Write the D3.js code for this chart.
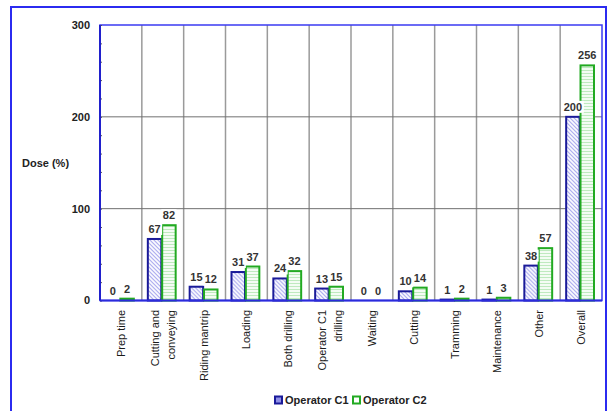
<!DOCTYPE html>
<html>
<head>
<meta charset="utf-8">
<script src="https://cdn.jsdelivr.net/npm/d3@7"></script>
<style>
  body { margin: 0; background: #fff; }
  svg { display: block; font-family: "Liberation Sans", Arial, sans-serif; }
</style>
</head>
<body>
<div id="chart"></div>
<script>
// activity categories (multi-line labels split with |)
const categories = ["Prep time", "Cutting and|conveying", "Riding mantrip", "Loading", "Both drilling",
  "Operator C1|drilling", "Waiting", "Cutting", "Tramming", "Maintenance", "Other", "Overall"];
const seriesNames = ["Operator C1", "Operator C2"];
const doseC1 = [0, 67, 15, 31, 24, 13, 0, 10, 1, 1, 38, 200];
const doseC2 = [2, 82, 12, 37, 32, 15, 0, 14, 2, 3, 57, 256];
const yTicks = [0, 100, 200, 300];

(function() {
  const width = 608, height = 411;
  const marginLeft = 100, marginRight = 6, marginTop = 25, marginBottom = 110.5;

  const svg = d3.select("#chart").append("svg")
      .attr("width", width)
      .attr("height", height)
      .attr("viewBox", [0, 0, width, height]);

  const defs = svg.append("defs");
  // diagonal hatch for operator C1
  const p1 = defs.append("pattern")
      .attr("id", "hatchC1")
      .attr("patternUnits", "userSpaceOnUse")
      .attr("width", 4).attr("height", 4);
  p1.append("rect").attr("width", 4).attr("height", 4).attr("fill", "#fff");
  p1.append("path").attr("d", "M-1,-1 L5,5 M-1,3 L1,5 M3,-1 L5,1")
      .attr("stroke", "#a3a3ee").attr("stroke-width", 1.1);
  // horizontal lines for operator C2
  const p2 = defs.append("pattern")
      .attr("id", "hatchC2")
      .attr("patternUnits", "userSpaceOnUse")
      .attr("width", 4).attr("height", 3);
  p2.append("rect").attr("width", 4).attr("height", 3).attr("fill", "#f4fcf4");
  p2.append("path").attr("d", "M0,1.5 L4,1.5")
      .attr("stroke", "#bfeabf").attr("stroke-width", 1);

  const fills = ["url(#hatchC1)", "url(#hatchC2)"];
  const strokes = ["#1a1a99", "#22aa22"];

  // outer frame
  svg.append("rect")
      .attr("x", 11).attr("y", 7)
      .attr("width", 595).attr("height", 430)
      .attr("fill", "none")
      .attr("stroke", "#2b2bf0")
      .attr("stroke-width", 2);

  const x = d3.scaleBand()
      .domain(categories)
      .range([marginLeft, width - marginRight]);
  const xSub = d3.scaleBand()
      .domain(seriesNames)
      .range([6, x.bandwidth() - 8])
      .paddingInner(0.06);
  const y = d3.scaleLinear()
      .domain([0, 300])
      .range([height - marginBottom, marginTop]);

  // vertical gridlines between categories
  svg.append("g")
    .selectAll("line")
    .data(categories.slice(1))
    .join("line")
      .attr("x1", d => x(d)).attr("x2", d => x(d))
      .attr("y1", y(300)).attr("y2", y(0))
      .attr("stroke", "#9a9a9a")
      .attr("stroke-width", 1.5);

  // horizontal gridlines
  svg.append("g")
    .selectAll("line")
    .data(yTicks.filter(t => t > 0 && t < 300))
    .join("line")
      .attr("x1", marginLeft).attr("x2", width - marginRight)
      .attr("y1", d => y(d)).attr("y2", d => y(d))
      .attr("stroke", "#707070")
      .attr("stroke-width", 1);

  // plot border
  svg.append("rect")
      .attr("x", marginLeft).attr("y", y(300))
      .attr("width", width - marginRight - marginLeft)
      .attr("height", y(0) - y(300))
      .attr("fill", "none")
      .attr("stroke", "#3b3bf2")
      .attr("stroke-width", 1.5);

  // y axis with minor ticks inside
  const yAxis = d3.axisRight(y)
      .tickValues(d3.range(0, 301, 20))
      .tickSize(2)
      .tickFormat("");
  svg.append("g")
      .attr("transform", `translate(${marginLeft},0)`)
      .call(yAxis)
      .call(g => g.select(".domain").remove())
      .call(g => g.selectAll(".tick line").attr("stroke", "#555"));

  svg.append("g")
    .selectAll("text")
    .data(yTicks)
    .join("text")
      .attr("x", marginLeft - 10)
      .attr("y", d => y(d))
      .attr("dy", "0.35em")
      .attr("text-anchor", "end")
      .attr("font-size", 11)
      .attr("font-weight", "bold")
      .attr("fill", "#222")
      .text(d => d);

  svg.append("text")
      .attr("x", 22).attr("y", 163)
      .attr("dy", "0.35em")
      .attr("font-size", 11)
      .attr("font-weight", "bold")
      .attr("fill", "#222")
      .text("Dose (%)");

  // bars
  const rows = categories.map((c, i) => ({cat: c, values: [doseC1[i], doseC2[i]]}));
  const groups = svg.append("g")
    .selectAll("g")
    .data(rows)
    .join("g")
      .attr("transform", d => `translate(${x(d.cat)},0)`);

  groups.selectAll("rect")
    .data(d => d.values.map((v, k) => ({key: seriesNames[k], k, v})))
    .join("rect")
      .attr("x", d => xSub(d.key))
      .attr("y", d => y(d.v))
      .attr("width", xSub.bandwidth())
      .attr("height", d => y(0) - y(d.v))
      .attr("fill", d => fills[d.k])
      .attr("stroke", d => strokes[d.k])
      .attr("stroke-width", 2);

  // axis lines redrawn over bars
  svg.append("line")
      .attr("x1", marginLeft).attr("x2", width - marginRight)
      .attr("y1", y(0)).attr("y2", y(0))
      .attr("stroke", "#2b2bdc")
      .attr("stroke-width", 2);
  svg.append("line")
      .attr("x1", marginLeft).attr("x2", marginLeft)
      .attr("y1", y(300)).attr("y2", y(0))
      .attr("stroke", "#2020cc")
      .attr("stroke-width", 2);

  // value labels with white backing
  const labels = groups.selectAll("g.lab")
    .data(d => d.values.map((v, k) => ({key: seriesNames[k], k, v})))
    .join("g")
      .attr("class", "lab")
      .attr("transform", d => `translate(${xSub(d.key) + xSub.bandwidth() / 2},${y(d.v) - 6})`);
  labels.append("rect")
      .attr("x", d => -String(d.v).length * 3.3 - 1)
      .attr("y", -10)
      .attr("width", d => String(d.v).length * 6.6 + 2)
      .attr("height", 12)
      .attr("fill", "#fff");
  labels.append("text")
      .attr("text-anchor", "middle")
      .attr("font-size", 11)
      .attr("font-weight", "bold")
      .attr("fill", "#333")
      .text(d => d.v);

  // rotated category labels
  const catLabels = svg.append("g")
    .selectAll("g")
    .data(categories)
    .join("g")
      .attr("transform", d => `translate(${x(d) + x.bandwidth() / 2},310) rotate(-90)`);
  catLabels.each(function(d) {
    const lines = d.split("|");
    const n = lines.length;
    d3.select(this).selectAll("text")
      .data(lines)
      .join("text")
        .attr("x", 0)
        .attr("y", (l, i) => (i - (n - 1) / 2) * 16)
        .attr("dy", "0.35em")
        .attr("text-anchor", "end")
        .attr("font-size", 11)
        .attr("fill", "#1a1a1a")
        .text(l => l);
  });

  // legend
  const legend = svg.append("g")
      .attr("transform", "translate(275,400)");
  const legendX = [0, 78];
  const items = legend.selectAll("g")
    .data(seriesNames)
    .join("g")
      .attr("transform", (d, i) => `translate(${legendX[i]},0)`);
  items.append("rect")
      .attr("x", 0).attr("y", -3.5)
      .attr("width", 7).attr("height", 7)
      .attr("fill", (d, i) => i === 0 ? "#8f8fe6" : "#fff")
      .attr("stroke", (d, i) => strokes[i])
      .attr("stroke-width", 2);
  items.append("text")
      .attr("x", 10)
      .attr("dy", "0.35em")
      .attr("font-size", 11)
      .attr("font-weight", "bold")
      .attr("fill", "#222")
      .text(d => d);
})();
</script>
</body>
</html>
